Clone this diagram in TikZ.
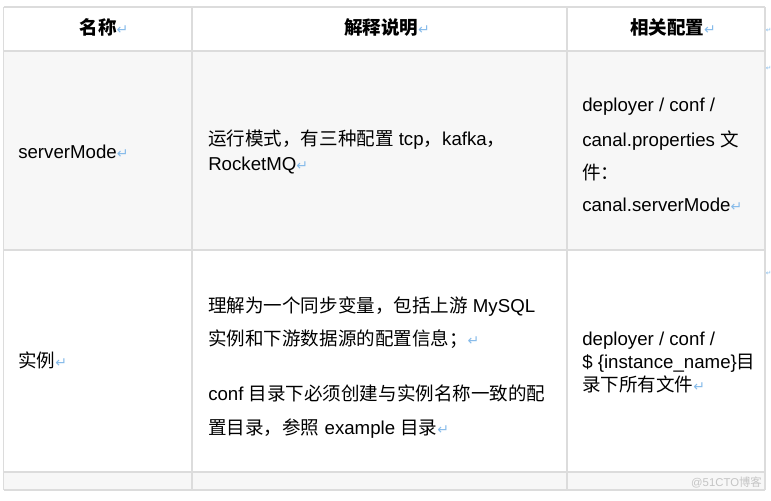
\documentclass[tikz,border=0pt]{standalone}
\usepackage{fontspec}
\setmainfont{Liberation Sans}
\newfontfamily\zhfont{Noto Sans CJK SC}
\newfontfamily\dvfont{DejaVu Sans}
\definecolor{gridc}{HTML}{DCDCDC}
\definecolor{rowgray}{HTML}{F7F7F7}
\definecolor{retblue}{HTML}{86BBEA}
\definecolor{wmark}{HTML}{C4C4C4}
\newcommand\zh[1]{{\zhfont\fontsize{13.9}{13.9}\selectfont #1}}
\newcommand\zhb[1]{{\zhfont\bfseries\fontsize{13.9}{13.9}\selectfont #1}}
\newcommand\ret{{\dvfont\fontsize{10.5}{10.5}\selectfont\color{retblue}↵}}
\newcommand\rets{{\dvfont\fontsize{5}{5}\selectfont\color{retblue}↵}}
\tikzset{
  cell/.style={anchor=base west, inner sep=0pt, font=\fontsize{14}{14}\selectfont, text=black},
  head/.style={anchor=base, inner sep=0pt, font=\fontsize{14}{14}\selectfont, text=black},
  grid/.style={draw=gridc, line width=0.9pt},
}
\begin{document}
\begin{tikzpicture}[x=0.75pt, y=-0.75pt]
\useasboundingbox (0,0) rectangle (771,500);
\fill[white] (0,0) rectangle (771,500);
% row backgrounds
\fill[white] (3.5,7) rectangle (765,51);
\fill[rowgray] (3.5,51) rectangle (765,250);
\fill[white] (3.5,250) rectangle (765,472);
\fill[rowgray] (3.5,472) rectangle (765,490);
% grid
\foreach \yy in {7,51,250,472,490} \draw[grid] (3.5,\yy) -- (765,\yy);
\foreach \xx in {3.5,192,567,765} \draw[grid] (\xx,7) -- (\xx,490);
% header
\node[head] (h1) at (104,34) {\zhb{名称}\ret};
\node[head] (h2) at (387,34) {\zhb{解释说明}\ret};
\node[head] (h3) at (673,34) {\zhb{相关配置}\ret};
% row 1
\node[cell] (r1a) at (18,158) {serverMode\ret};
\node[cell] (r1b1) at (208,145) {\zh{运行模式，有三种配置} tcp\zh{，}kafka\zh{，}};
\node[cell] (r1b2) at (208,170) {RocketMQ\ret};
\node[cell] (r1c1) at (582,111) {deployer / conf /};
\node[cell] (r1c2) at (582,146) {canal.properties \zh{文}};
\node[cell] (r1c3) at (582,179) {\zh{件：}};
\node[cell] (r1c4) at (582,211) {canal.serverMode\ret};
% row 2
\node[cell] (r2a) at (18,367) {\zh{实例}\ret};
\node[cell] (r2b1) at (208,312) {\zh{理解为一个同步变量，包括上游} MySQL};
\node[cell] (r2b2) at (208,345) {\zh{实例和下游数据源的配置信息；}\ret};
\node[cell] (r2b3) at (208,400) {conf \zh{目录下必须创建与实例名称一致的配}};
\node[cell] (r2b4) at (208,434) {\zh{置目录，参照} example \zh{目录}\ret};
\node[cell] (r2c1) at (582,345) {deployer / conf /};
\node[cell] (r2c2) at (582,368) {\$ \{instance\_name\}\zh{目}};
\node[cell] (r2c3) at (582,391) {\zh{录下所有文件}\ret};
% return marks just beyond the right edge
\node[cell] (m1) at (765.5,32) {\rets};
\node[cell] (m2) at (765.5,70) {\rets};
\node[cell] (m3) at (765.5,275) {\rets};
% watermark
\node[anchor=base east, inner sep=0pt, text=wmark, font=\fontsize{8.5}{8.5}\selectfont] (wm) at (762,486) {@51CTO{\zhfont 博客}};
\end{tikzpicture}
\end{document}
